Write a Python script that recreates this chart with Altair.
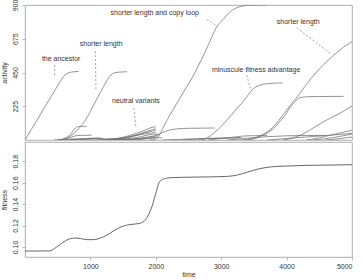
import altair as alt
import pandas as pd

# ---- activity curves (time, activity) per genotype ----
ancestor_t = [0, 100, 200, 300, 400, 500, 560, 620, 680, 750, 820]
ancestor_a = [0, 72, 145, 218, 290, 362, 405, 437, 450, 455, 457]

shorter1_t = [550, 650, 750, 850, 950, 1000, 1100, 1200, 1280, 1350, 1430, 1560]
shorter1_a = [0, 15, 45, 90, 150, 190, 275, 355, 415, 445, 452, 455]

early1_t = [500, 600, 700, 770, 830, 940]
early1_a = [0, 10, 40, 80, 90, 92]
early2_t = [500, 650, 750, 800, 1020]
early2_a = [0, 10, 25, 30, 32]
early3_t = [450, 600, 800, 1000, 1200]
early3_a = [0, 4, 8, 10, 11]
early4_t = [700, 900, 1100, 1300, 1500]
early4_a = [0, 3, 6, 8, 9]
early5_t = [600, 800, 1000, 1150]
early5_a = [0, 5, 12, 14]

neutral1_t = [1150, 1400, 1600, 1800, 1950, 2000]
neutral1_a = [0, 10, 30, 60, 85, 88]
neutral2_t = [1200, 1450, 1650, 1850, 2000]
neutral2_a = [0, 8, 25, 50, 65]
neutral3_t = [1250, 1500, 1700, 1900, 2000]
neutral3_a = [0, 10, 30, 45, 50]
neutral4_t = [1300, 1550, 1750, 1900, 2030]
neutral4_a = [0, 8, 20, 35, 40]
neutral5_t = [1350, 1600, 1800, 1950, 2050]
neutral5_a = [0, 5, 15, 25, 28]
neutral6_t = [1400, 1650, 1850, 2000]
neutral6_a = [0, 5, 12, 18]
neutral7_t = [1100, 1500, 1750, 1950, 2000]
neutral7_a = [0, 15, 40, 70, 75]
neutral8_t = [1500, 1800, 2000, 2100]
neutral8_a = [0, 8, 14, 15]

flat80_t = [1700, 1900, 2000, 2100, 2200, 2350, 2500, 2900]
flat80_a = [0, 15, 30, 50, 65, 75, 78, 80]

copyloop_t = [1900, 1950, 2000, 2050, 2100, 2150, 2200, 2250, 2350, 2450, 2555,
              2650, 2760, 2850, 2938, 3030, 3117, 3220, 3321, 3450, 3600, 3700]
copyloop_a = [0, 2, 8, 30, 70, 115, 155, 192, 265, 340, 414,
              495, 592, 680, 759, 804, 848, 878, 893, 899, 900, 900]

minuscule_t = [2650, 2750, 2857, 2950, 3050, 3150, 3270, 3347, 3420, 3474, 3550, 3627, 3750, 3933]
minuscule_a = [0, 6, 35, 70, 115, 165, 225, 262, 305, 335, 358, 370, 377, 381]

shorter2_t = [3300, 3450, 3576, 3680, 3780, 3880, 3985, 4090, 4189, 4300, 4444, 4550, 4648, 4800, 4900, 5000]
shorter2_a = [0, 8, 25, 48, 80, 130, 192, 250, 303, 370, 447, 495, 537, 595, 628, 655]

plateau290_t = [3400, 3550, 3650, 3780, 3900, 3985, 4050, 4112, 4189, 4300, 4500, 4870]
plateau290_a = [0, 15, 35, 69, 125, 170, 215, 247, 280, 288, 290, 291]

late225_t = [3950, 4100, 4250, 4444, 4600, 4800, 4980, 5000]
late225_a = [0, 15, 40, 90, 130, 175, 222, 228]

small1_t = [4300, 4500, 4700, 4900, 5000]
small1_a = [0, 15, 35, 55, 65]
small2_t = [4400, 4700, 5000]
small2_a = [0, 15, 40]
small3_t = [3700, 4000, 4300, 4600, 4900, 5000]
small3_a = [0, 10, 20, 30, 40, 45]
small4_t = [2800, 3000, 3200, 3400, 3700]
small4_a = [0, 10, 20, 28, 30]
small5_t = [3100, 3400, 3700, 4000, 4300, 4600]
small5_a = [0, 12, 22, 28, 30, 30]
small6_t = [2400, 2700, 3000, 3300]
small6_a = [0, 8, 12, 14]
small7_t = [4600, 4800, 5000]
small7_a = [0, 8, 20]
small8_t = [2100, 2400, 2700, 3000, 3300]
small8_a = [0, 5, 10, 13, 15]

series = {
    "ancestor": (ancestor_t, ancestor_a),
    "shorter1": (shorter1_t, shorter1_a),
    "early1": (early1_t, early1_a),
    "early2": (early2_t, early2_a),
    "early3": (early3_t, early3_a),
    "early4": (early4_t, early4_a),
    "early5": (early5_t, early5_a),
    "neutral1": (neutral1_t, neutral1_a),
    "neutral2": (neutral2_t, neutral2_a),
    "neutral3": (neutral3_t, neutral3_a),
    "neutral4": (neutral4_t, neutral4_a),
    "neutral5": (neutral5_t, neutral5_a),
    "neutral6": (neutral6_t, neutral6_a),
    "neutral7": (neutral7_t, neutral7_a),
    "neutral8": (neutral8_t, neutral8_a),
    "flat80": (flat80_t, flat80_a),
    "copyloop": (copyloop_t, copyloop_a),
    "minuscule": (minuscule_t, minuscule_a),
    "shorter2": (shorter2_t, shorter2_a),
    "plateau290": (plateau290_t, plateau290_a),
    "late225": (late225_t, late225_a),
    "small1": (small1_t, small1_a),
    "small2": (small2_t, small2_a),
    "small3": (small3_t, small3_a),
    "small4": (small4_t, small4_a),
    "small5": (small5_t, small5_a),
    "small6": (small6_t, small6_a),
    "small7": (small7_t, small7_a),
    "small8": (small8_t, small8_a),
}

# ---- annotations ----
label_text = ["the ancestor", "shorter length", "neutral variants",
              "shorter length and copy loop", "minuscule fitness advantage", "shorter length"]
label_time = [553, 1165, 1696, 1984, 3534, 4178]
label_act = [543, 641, 258, 848, 470, 788]
leader_t1 = [453, 1076, 1663, 2780, 3388, 4154]
leader_a1 = [499, 592, 214, 804, 432, 748]
leader_t2 = [453, 1085, 1698, 2933, 3449, 4689]
leader_a2 = [432, 336, 80, 762, 343, 570]

# ---- mean fitness ----
fit_t = [0, 200, 380, 450, 520, 600, 680, 770, 850, 950, 1050, 1150, 1250, 1350, 1450,
         1550, 1650, 1750, 1820, 1880, 1940, 2000, 2050, 2100, 2200, 2400, 2800, 3100,
         3250, 3400, 3550, 3700, 3850, 4050, 4300, 4600, 5000]
fit_v = [0.0962, 0.0962, 0.0963, 0.0985, 0.1015, 0.1050, 0.1075, 0.1083, 0.1078, 0.1068,
         0.1068, 0.1082, 0.1110, 0.1148, 0.1182, 0.1203, 0.1212, 0.1220, 0.1240, 0.1290,
         0.1376, 0.1500, 0.1600, 0.1630, 0.1645, 0.1650, 0.1654, 0.1659, 0.1672, 0.1698,
         0.1725, 0.1743, 0.1752, 0.1756, 0.1762, 0.1764, 0.1768]

rows = []
for name, (ts, vs) in series.items():
    for t, v in zip(ts, vs):
        rows.append({"series": name, "time": t, "activity": v})
act_df = pd.DataFrame(rows)

ann_df = pd.DataFrame({"label": label_text, "time": label_time, "activity": label_act})
lead_df = pd.DataFrame({"t1": leader_t1, "a1": leader_a1, "t2": leader_t2, "a2": leader_a2})
fit_df = pd.DataFrame({"time": fit_t, "fitness": fit_v})

FONT = "Liberation Sans"
W, H_TOP, H_BOT = 327, 135, 115

x_top = alt.X("time:Q", scale=alt.Scale(domain=[0, 5000], nice=False, zero=False), axis=None)
y_act = alt.Y("activity:Q", scale=alt.Scale(domain=[0, 900], nice=False),
              axis=alt.Axis(values=[225, 450, 675, 900], title="activity"))

curves = alt.Chart(act_df).mark_line(
    color="#707070", strokeWidth=0.75, interpolate="monotone", clip=True
).encode(x=x_top, y=y_act, detail="series:N")

leaders = alt.Chart(lead_df).mark_rule(
    color="#777777", strokeWidth=0.7, strokeDash=[2, 2]
).encode(
    x=alt.X("t1:Q", scale=alt.Scale(domain=[0, 5000], nice=False, zero=False), axis=None),
    x2="t2:Q",
    y=alt.Y("a1:Q", scale=alt.Scale(domain=[0, 900], nice=False)),
    y2="a2:Q",
)

labels = alt.Chart(ann_df).mark_text(
    font=FONT, fontSize=7, color="#333333", baseline="middle", align="center"
).encode(x=x_top, y=alt.Y("activity:Q"), text="label:N")

top = alt.layer(curves, leaders, labels).properties(width=W, height=H_TOP)

bottom = alt.Chart(fit_df).mark_line(
    color="#555555", strokeWidth=0.9, interpolate="monotone"
).encode(
    x=alt.X("time:Q", scale=alt.Scale(domain=[0, 5000], nice=False, zero=False),
            axis=alt.Axis(values=[1000, 2000, 3000, 4000, 5000], format="d", title="time",
                          labelPadding=2, titlePadding=1)),
    y=alt.Y("fitness:Q", scale=alt.Scale(domain=[0.0906, 0.198], nice=False, zero=False),
            axis=alt.Axis(values=[0.10, 0.12, 0.14, 0.16, 0.18], format=".2f", title="fitness")),
).properties(width=W, height=H_BOT)

chart = alt.vconcat(top, bottom, spacing=0).properties(
    padding={"left": 0, "top": -2, "right": 0, "bottom": 0}
).configure_view(
    stroke="#9a9a9a", strokeWidth=0.8
).configure_axis(
    labelFont=FONT, titleFont=FONT, labelFontSize=7, titleFontSize=7,
    labelColor="#333333", titleColor="#333333", titleFontWeight="normal",
    grid=False, domain=False, tickColor="#9a9a9a", tickSize=3, tickWidth=0.7,
).configure_axisY(
    labelAngle=270, labelAlign="center", labelBaseline="bottom",
    labelPadding=3.5, titlePadding=4,
)

chart.save("out.html", embed_options={"renderer": "svg", "actions": False})
